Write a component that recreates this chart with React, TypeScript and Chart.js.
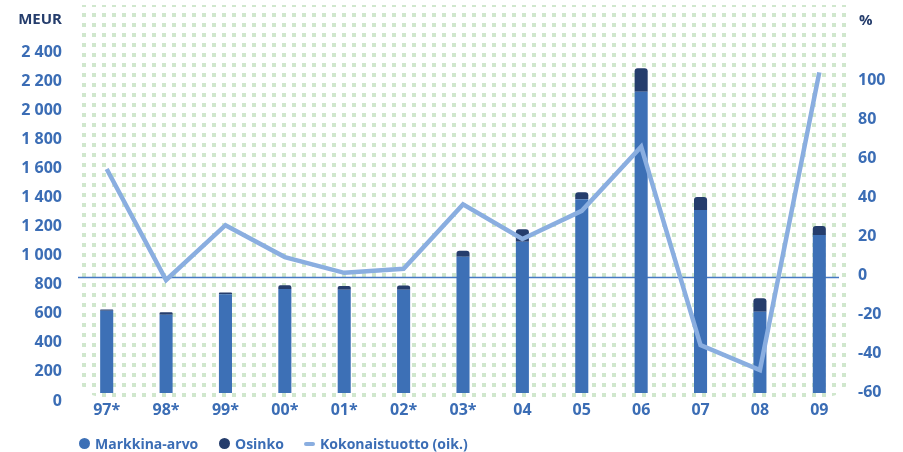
import React, { useEffect, useRef } from "react";
import { Chart, registerables } from "chart.js";

Chart.register(...registerables);

const categories = ["97*", "98*", "99*", "00*", "01*", "02*", "03*", "04", "05", "06", "07", "08", "09"];
const markkinaArvo = [621, 594, 734, 770, 765, 765, 992, 1096, 1387, 2127, 1313, 614, 1142];
const osinko = [9, 16, 13, 26, 26, 30, 42, 85, 48, 161, 90, 92, 61];
const kokonaistuotto = [54.7, -2.4, 25.8, 9.4, 1.3, 3.4, 36.5, 18.7, 33.2, 66.2, -35.9, -48.7, 104.4];
const leftTicks = [0, 200, 400, 600, 800, 1000, 1200, 1400, 1600, 1800, 2000, 2200, 2400];
const rightTicks = [-60, -40, -20, 0, 20, 40, 60, 80, 100];
const referenceValue = 0;

const FONT = "'Open Sans', sans-serif";
const BLUE = "#3d70b6";
const NAVY = "#253d6c";
const LIGHT = "#8aaee0";
const LABEL = "#3b6db5";

const decorPlugin = {
  id: "decor",
  beforeDraw(chart: any) {
    const { ctx, chartArea } = chart;
    const tile = document.createElement("canvas");
    tile.width = 10;
    tile.height = 10;
    const t = tile.getContext("2d")!;
    t.fillStyle = "rgba(150,202,145,0.45)";
    t.fillRect(2, 3, 4, 4);
    const pat = ctx.createPattern(tile, "repeat");
    const left = chartArea.left + 1;
    const right = chartArea.right + 1;
    const top = 5;
    const bottom = chartArea.bottom + 4;
    ctx.save();
    ctx.beginPath();
    (ctx as any).roundRect(left, top, right - left, bottom - top, [3, 3, 24, 24]);
    ctx.fillStyle = pat;
    ctx.fill();
    ctx.restore();
  },
  beforeDatasetsDraw(chart: any) {
    const { ctx, chartArea, scales } = chart;
    const y = Math.round(scales.y1.getPixelForValue(referenceValue)) + 2.5;
    ctx.save();
    ctx.strokeStyle = "#4679c2";
    ctx.lineWidth = 1.3;
    ctx.beginPath();
    ctx.moveTo(chartArea.left + 1, y);
    ctx.lineTo(chartArea.right - 10, y);
    ctx.stroke();
    ctx.restore();
  },
  afterDraw(chart: any) {
    const { ctx } = chart;
    ctx.save();
    ctx.font = `bold 15px ${FONT}`;
    ctx.fillStyle = NAVY;
    ctx.textBaseline = "middle";
    ctx.textAlign = "right";
    ctx.fillText("MEUR", 62, 20);
    ctx.textAlign = "left";
    ctx.fillText("%", 859, 21);
    ctx.restore();
  },
};

export default function App() {
  const ref = useRef<HTMLCanvasElement>(null);

  useEffect(() => {
    const fmt = (v: number) => String(v).replace(/\B(?=(\d{3})+(?!\d))/g, " ");
    const tickFont = { family: FONT, size: 16, weight: "bold" };
    const chart = new Chart(ref.current!, {
      type: "bar",
      data: {
        labels: categories,
        datasets: [
          {
            type: "line",
            label: "Kokonaistuotto (oik.)",
            data: kokonaistuotto,
            yAxisID: "y1",
            borderColor: LIGHT,
            backgroundColor: LIGHT,
            borderWidth: 4.5,
            pointRadius: 0,
            tension: 0,
            order: 0,
          } as any,
          {
            label: "Markkina-arvo",
            data: markkinaArvo,
            yAxisID: "y",
            backgroundColor: BLUE,
            stack: "s",
            order: 1,
            clip: 0,
            barPercentage: 0.22,
            categoryPercentage: 1,
          } as any,
          {
            label: "Osinko",
            data: osinko,
            yAxisID: "y",
            backgroundColor: NAVY,
            stack: "s",
            order: 1,
            clip: 0,
            barPercentage: 0.22,
            categoryPercentage: 1,
            borderRadius: { topLeft: 3, topRight: 3, bottomLeft: 0, bottomRight: 0 },
            borderSkipped: "bottom",
          } as any,
        ],
      },
      options: {
        responsive: false,
        animation: false,
        layout: { padding: { top: 42, left: 0, right: 0, bottom: 0 } },
        plugins: { legend: { display: false }, tooltip: { enabled: false } },
        scales: {
          x: {
            stacked: true,
            grid: { display: false, drawTicks: false, tickLength: 0 },
            border: { display: false },
            ticks: { color: LABEL, font: tickFont, padding: 8 },
            afterFit: (s: any) => {
              s.height = 59;
            },
          },
          y: {
            position: "left",
            stacked: true,
            min: 55,
            max: 2469,
            grid: { display: false, drawTicks: false, tickLength: 0 },
            border: { display: false },
            ticks: {
              color: LABEL,
              font: tickFont,
              padding: 15,
              autoSkip: false,
              callback: (v: any) => fmt(Number(v)),
            },
            afterBuildTicks: (s: any) => {
              s.ticks = leftTicks.map((v) => ({ value: v }));
            },
            afterFit: (s: any) => {
              s.width = 77;
            },
          },
          y1: {
            position: "right",
            min: -60.5,
            max: 120,
            grid: { display: false, drawTicks: false, tickLength: 0 },
            border: { display: false },
            ticks: {
              color: LABEL,
              font: tickFont,
              padding: 9,
              autoSkip: false,
            },
            afterBuildTicks: (s: any) => {
              s.ticks = rightTicks.map((v) => ({ value: v }));
            },
            afterFit: (s: any) => {
              s.width = 54;
            },
          },
        },
      } as any,
      plugins: [decorPlugin],
    });
    return () => chart.destroy();
  }, []);

  const textStyle: React.CSSProperties = {
    position: "absolute",
    top: 434,
    height: 20,
    lineHeight: "20px",
    fontFamily: FONT,
    fontWeight: 700,
    fontSize: 14,
    color: LABEL,
    whiteSpace: "nowrap",
  };
  const dot = (left: number, color: string): React.CSSProperties => ({
    position: "absolute",
    left,
    top: 438,
    width: 11,
    height: 11,
    borderRadius: "50%",
    background: color,
  });

  return (
    <div style={{ position: "absolute", left: 0, top: 0, width: 903, height: 452, background: "#fff" }}>
      <canvas ref={ref} width={903} height={452} style={{ display: "block" }} />
      <span style={dot(79, BLUE)} />
      <span style={{ ...textStyle, left: 95 }}>Markkina-arvo</span>
      <span style={dot(219, NAVY)} />
      <span style={{ ...textStyle, left: 235 }}>Osinko</span>
      <span
        style={{
          position: "absolute",
          left: 304,
          top: 442,
          width: 11,
          height: 4,
          borderRadius: 2,
          background: LIGHT,
        }}
      />
      <span style={{ ...textStyle, left: 320 }}>Kokonaistuotto (oik.)</span>
    </div>
  );
}
